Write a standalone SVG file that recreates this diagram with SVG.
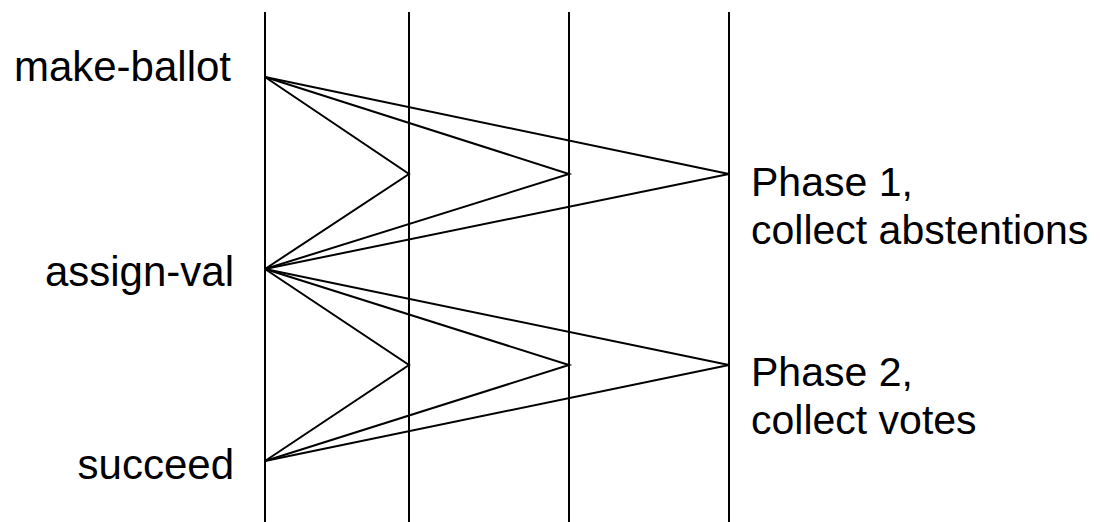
<svg xmlns="http://www.w3.org/2000/svg" width="1102" height="522" viewBox="0 0 1102 522">
  <style>
    .ln { stroke: #000; stroke-width: 2; fill: none; }
    .lbl { font-family: "Liberation Sans", Arial, sans-serif; font-size: 42px; fill: #000; }
    .left { text-anchor: end; }
    .phase { font-size: 41px; }
  </style>
  <rect width="1102" height="522" fill="#fff"/>

  <!-- process timelines -->
  <g id="timelines">
    <line class="ln" x1="265" y1="12" x2="265" y2="522"/>
    <line class="ln" x1="409" y1="12" x2="409" y2="522"/>
    <line class="ln" x1="569" y1="12" x2="569" y2="522"/>
    <line class="ln" x1="729" y1="12" x2="729" y2="522"/>
  </g>

  <!-- event labels -->
  <g id="make-ballot"><text class="lbl left" x="231" y="81">make-ballot</text></g>
  <g id="assign-val"><text class="lbl left" x="234" y="286">assign-val</text></g>
  <g id="succeed"><text class="lbl left" x="234" y="479">succeed</text></g>
  <g id="phase1">
    <text class="lbl phase" x="751" y="196">Phase 1,</text>
    <text class="lbl phase" x="751" y="244">collect abstentions</text>
  </g>
  <g id="phase2">
    <text class="lbl phase" x="751" y="386">Phase 2,</text>
    <text class="lbl phase" x="751" y="434">collect votes</text>
  </g>

  <!-- messages -->
  <g id="connectors">
    <polyline class="ln" points="265,77 409,174 265,269"/>
    <polyline class="ln" points="265,77 569,174 265,269"/>
    <polyline class="ln" points="265,77 729,174 265,269"/>
    <polyline class="ln" points="265,269 409,365 265,461"/>
    <polyline class="ln" points="265,269 569,365 265,461"/>
    <polyline class="ln" points="265,269 729,365 265,461"/>
  </g>
</svg>
